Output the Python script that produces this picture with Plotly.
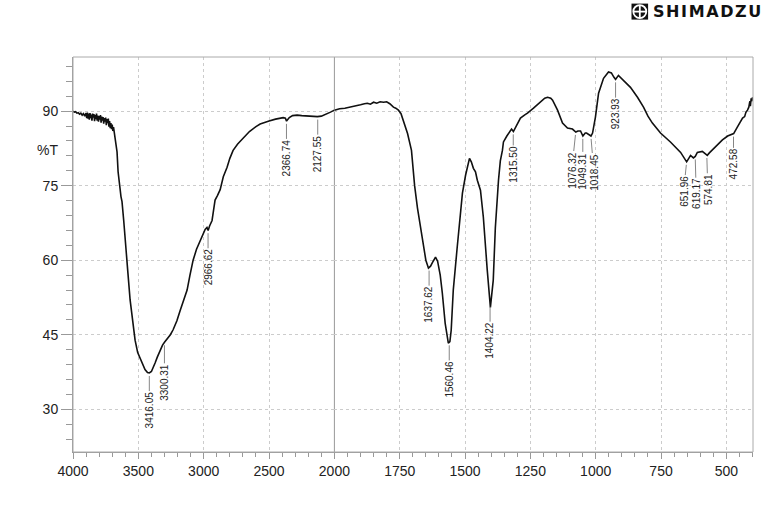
import plotly.graph_objects as go

# ---------------- data ----------------
wavenumber = [
    4000, 3990, 3980, 3970, 3960, 3950, 3940, 3930, 3920, 3910, 3900, 3895, 3890, 3885, 3880,
    3875, 3870, 3865, 3860, 3855, 3850, 3845, 3840, 3835, 3830, 3825, 3820, 3815, 3810, 3805,
    3800, 3795, 3790, 3785, 3780, 3775, 3770, 3765, 3760, 3755, 3750, 3745, 3740, 3735, 3730,
    3725, 3720, 3715, 3710, 3705, 3700, 3695, 3690, 3685, 3678, 3670,
    3663, 3655, 3648, 3640, 3633, 3625, 3612, 3600, 3580, 3563, 3545, 3525, 3505, 3487, 3468,
    3449, 3430, 3416, 3400, 3385, 3372, 3355, 3334, 3315, 3300, 3280, 3255, 3234, 3205, 3180,
    3155, 3127, 3105, 3081, 3055, 3028, 3005, 2989, 2975, 2966, 2955, 2936, 2925, 2913, 2895,
    2874, 2850, 2821, 2800, 2775, 2740, 2698, 2650, 2600, 2568, 2500, 2450, 2392, 2375, 2366,
    2358, 2345, 2320, 2285, 2250, 2200, 2160, 2130, 2100, 2060, 2030, 2000,
    1980, 1960, 1939, 1920, 1900, 1885, 1874, 1862, 1850, 1838, 1825, 1812, 1800, 1788, 1774,
    1765, 1755, 1745, 1736, 1720, 1705, 1693, 1682, 1663, 1650, 1640, 1632, 1625, 1613, 1605,
    1595, 1587, 1576, 1564, 1558, 1553, 1545, 1530, 1520, 1510, 1498, 1490, 1483, 1476, 1468,
    1460, 1453, 1441, 1430, 1415, 1403, 1392, 1384, 1372, 1365, 1357, 1353, 1340, 1330, 1322,
    1315, 1307, 1288, 1270, 1261, 1238, 1211, 1195, 1184, 1172, 1165, 1146, 1127, 1108, 1089,
    1076, 1068, 1058, 1049, 1040, 1035, 1024, 1018, 1012, 1001, 989, 970, 951, 940, 930,
    924, 913, 900, 893, 880, 867, 840, 817, 800, 783, 752, 714, 675, 660, 652,
    645, 637, 626, 619, 611, 592, 580, 573, 565, 549, 530, 515, 495, 484, 472,
    458, 445, 438, 430, 425, 419, 414, 410, 408, 405, 402, 400,
]
transmittance = [
    90.0, 89.8, 89.9, 89.6, 89.7, 89.4, 89.6, 89.2, 89.5, 89.0, 89.6, 88.6, 89.7, 88.5, 89.5,
    88.3, 89.6, 88.6, 89.3, 88.1, 89.5, 88.7, 89.4, 88.0, 89.2, 88.4, 89.5, 88.1, 89.1, 87.9,
    89.0, 88.3, 89.2, 87.7, 88.9, 88.1, 88.8, 87.5, 88.6, 87.9, 88.7, 87.2, 88.4, 87.6, 88.5,
    86.9, 88.0, 86.6, 87.6, 86.4, 87.3, 86.0, 86.8, 85.9, 85.0, 83.5,
    81.8, 77.8, 75.6, 74.4, 72.8, 71.8, 68.0, 64.6, 57.5, 52.0, 47.5, 43.9, 41.4, 40.2, 38.9,
    38.0, 37.4, 37.3, 37.6, 38.4, 39.3, 40.5, 41.9, 42.9, 43.5, 44.2, 45.0, 46.0, 47.8, 49.9,
    51.8, 54.0, 57.0, 60.0, 62.2, 64.0, 65.4, 66.2, 66.6, 66.0, 66.9, 68.0, 70.0, 72.1, 73.0,
    74.2, 76.8, 78.7, 80.5, 82.1, 83.4, 84.6, 85.9, 86.9, 87.4, 88.0, 88.4, 88.7, 88.6, 88.0,
    88.2, 88.7, 89.1, 89.2, 89.1, 89.0, 88.9, 88.9, 89.0, 89.4, 89.8, 90.2,
    90.5, 90.6, 90.8, 91.0, 91.3, 91.5, 91.6, 91.4, 91.8, 91.6, 91.9, 91.8, 91.9, 91.5, 90.8,
    90.6, 90.2, 89.5, 88.2, 85.5, 82.1, 75.0, 70.5, 64.0, 60.0, 58.4, 58.8, 59.5, 60.6, 59.8,
    57.0, 53.4, 47.3, 43.3, 43.6, 45.9, 54.0, 62.6, 68.0, 73.5, 77.1, 79.0, 80.5, 79.8, 78.5,
    77.8, 76.1, 74.1, 68.7, 58.0, 50.5, 56.0, 66.6, 76.1, 80.0, 82.1, 83.8, 85.0, 85.8, 86.4,
    85.9, 86.8, 88.6, 89.3, 89.6, 90.6, 91.8, 92.6, 92.8, 92.6, 92.2, 90.2, 87.6, 86.6, 86.4,
    85.8, 86.0, 86.0, 85.0, 85.6, 85.6, 85.2, 85.0, 85.6, 88.8, 93.6, 96.6, 97.9, 97.7, 96.8,
    96.4, 97.2, 96.5, 96.2, 95.6, 94.8, 92.8, 90.8, 89.0, 87.6, 85.6, 83.8, 81.7, 80.6, 79.8,
    80.4, 81.1, 80.6, 80.9, 81.7, 81.9, 81.4, 81.1, 81.6, 82.5, 83.4, 84.2, 85.0, 85.2, 85.5,
    86.8, 87.8, 88.6, 88.9, 89.8, 90.2, 90.8, 92.0, 91.0, 92.6, 92.0, 92.8,
]
peak_labels = ["3416.05", "3300.31", "2966.62", "2366.74", "2127.55", "1637.62", "1560.46",
               "1404.22", "1315.50", "1076.32", "1049.31", "1018.45", "923.93", "651.96",
               "619.17", "574.81", "472.58"]
peak_wn = [float(s) for s in peak_labels]
x_left_ticks = [4000, 3500, 3000, 2500]
y_tick_vals = [30, 45, 60, 75, 90]

# label styling (pixel gap below curve, horizontal shift)
label_gap = {"3300.31": 21, "1315.50": 14, "472.58": 14, "651.96": 13, "619.17": 21,
             "1076.32": 19, "1049.31": 16, "1018.45": 17}
label_dx = {"1076.32": -4, "1018.45": 3, "651.96": -3, "619.17": 1, "574.81": 1}

SPLIT = 2000
D = 0.3844
FONT = "Liberation Sans, Arial, sans-serif"

def interp(w):
    for i in range(len(wavenumber) - 1):
        a, b = wavenumber[i], wavenumber[i + 1]
        if a >= w >= b:
            f = (a - w) / (a - b) if a != b else 0
            return transmittance[i] + f * (transmittance[i + 1] - transmittance[i])
    return transmittance[-1]

lx = [w for w in wavenumber if w >= SPLIT]
ly = [t for w, t in zip(wavenumber, transmittance) if w >= SPLIT]
rx = [w for w in wavenumber if w <= SPLIT]
ry = [t for w, t in zip(wavenumber, transmittance) if w <= SPLIT]

fig = go.Figure()
line_style = dict(color="#111111", width=1.6)
fig.add_trace(go.Scatter(x=lx, y=ly, mode="lines", line=line_style, xaxis="x", yaxis="y",
                         showlegend=False, hoverinfo="skip"))
fig.add_trace(go.Scatter(x=rx, y=ry, mode="lines", line=line_style, xaxis="x2", yaxis="y",
                         showlegend=False, hoverinfo="skip"))

annotations = []
for lab, w in zip(peak_labels, peak_wn):
    tw = sum(2.78 if c == "." else 5.56 for c in lab)
    gap = label_gap.get(lab, 18)
    annotations.append(dict(
        x=w, y=interp(w), xref="x" if w >= SPLIT else "x2", yref="y",
        text=lab, textangle=-90, showarrow=True, arrowhead=0, arrowwidth=0.9,
        arrowcolor="#777777", standoff=3, ax=label_dx.get(lab, 0), ay=gap + tw / 2 + 1,
        font=dict(family=FONT, size=10, color="#222222"), borderpad=0,
    ))

annotations.append(dict(x=(47 - 72.7) / 680.6, y=(451.7 - 150) / 395, xref="paper", yref="paper",
                        xanchor="center", yanchor="middle",
                        text="%T", showarrow=False, font=dict(family=FONT, size=14, color="#222222")))
annotations.append(dict(x=(651.5 - 72.7) / 680.6, y=(451.7 - 11.5) / 395, xref="paper", yref="paper",
                        xanchor="left", yanchor="middle", showarrow=False,
                        text="<b>S\u200aH\u200aI\u200aM\u200aA\u200aD\u200aZ\u200aU</b>",
                        font=dict(family="DejaVu Sans", size=16, color="#111111")))

def px_x(p):
    return (p - 72.7) / 680.6

def px_y(p):
    return (451.7 - p) / 395

shapes = [
    dict(type="rect", xref="paper", yref="paper", x0=0, x1=1, y0=0, y1=1,
         line=dict(color="#aaaaaa", width=1), layer="above"),
    dict(type="line", xref="paper", yref="paper", x0=D, x1=D, y0=0, y1=1,
         line=dict(color="#999999", width=1), layer="below"),
    # logo icon
    dict(type="rect", xref="paper", yref="paper", x0=px_x(631.7), x1=px_x(648.3),
         y0=px_y(19.3), y1=px_y(3.3), fillcolor="#111111", line=dict(width=0)),
    dict(type="circle", xref="paper", yref="paper", x0=px_x(633.5), x1=px_x(646.5),
         y0=px_y(17.8), y1=px_y(4.8), line=dict(color="white", width=1.8)),
    dict(type="line", xref="paper", yref="paper", x0=px_x(640), x1=px_x(640),
         y0=px_y(17.8), y1=px_y(4.8), line=dict(color="white", width=1.8)),
    dict(type="line", xref="paper", yref="paper", x0=px_x(633.5), x1=px_x(646.5),
         y0=px_y(11.3), y1=px_y(11.3), line=dict(color="white", width=1.8)),
]

axis_common = dict(
    ticks="outside", tickcolor="#999999", showline=True, linecolor="#999999", linewidth=1,
    showgrid=True, gridcolor="#cccccc", griddash="dot", gridwidth=1, zeroline=False,
    tickfont=dict(family=FONT, size=14, color="#222222"),
)

fig.update_layout(
    width=780, height=506,
    margin=dict(l=73, r=27, t=57, b=54),
    paper_bgcolor="white", plot_bgcolor="white",
    xaxis=dict(domain=[0, D], range=[4000, SPLIT], anchor="y", tickmode="array",
               tickvals=x_left_ticks, ticklen=6,
               minor=dict(tickmode="linear", tick0=0, dtick=100, ticklen=4, ticks="outside",
                          tickcolor="#999999", showgrid=False),
               **axis_common),
    xaxis2=dict(domain=[D, 1], range=[SPLIT, 398], anchor="y", tickmode="linear", tick0=0,
                dtick=250, ticklen=6,
                minor=dict(dtick=50, ticklen=4, ticks="outside", tickcolor="#999999",
                           showgrid=False),
                **axis_common),
    yaxis=dict(range=[21.4, 100.9], anchor="x", tickmode="array", tickvals=y_tick_vals,
               ticklen=11,
               minor=dict(tickmode="linear", tick0=0, dtick=3, ticklen=6, ticks="outside",
                          tickcolor="#999999", showgrid=False),
               **axis_common),
    annotations=annotations,
    shapes=shapes,
)

fig.write_html("out.html")
